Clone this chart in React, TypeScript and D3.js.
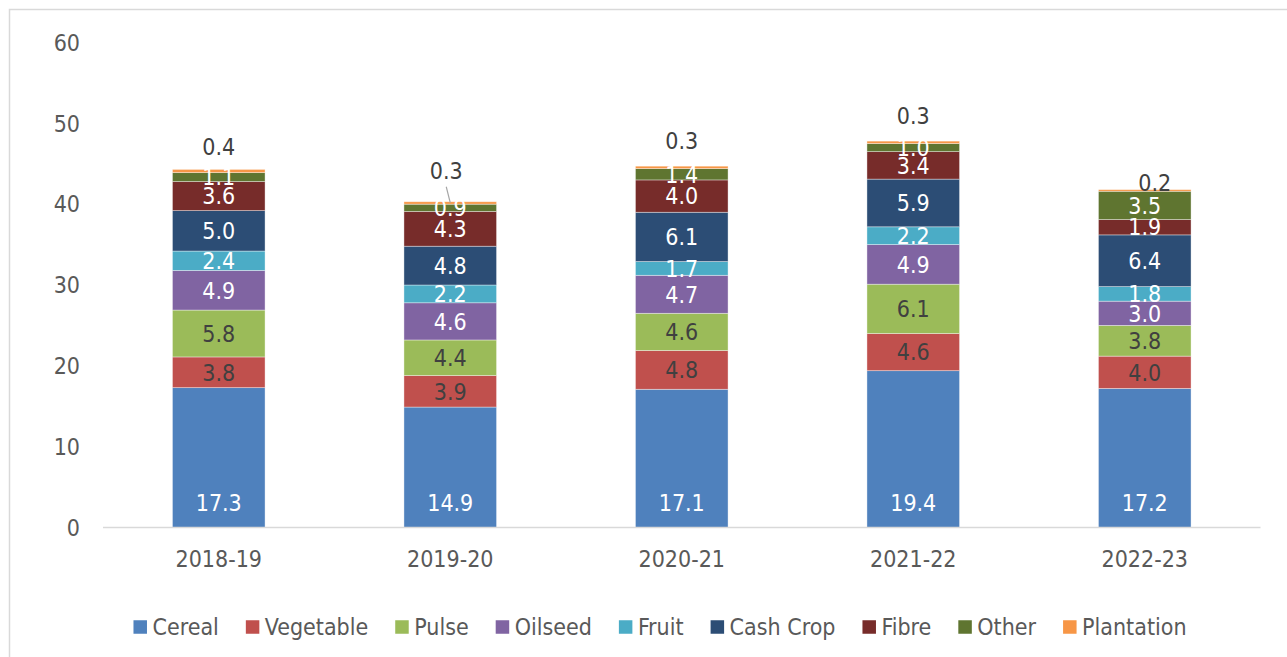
import React, { useEffect, useRef } from "react";
import * as d3 from "d3";

const categories = ["2018-19", "2019-20", "2020-21", "2021-22", "2022-23"];
const seriesNames = ["Cereal", "Vegetable", "Pulse", "Oilseed", "Fruit", "Cash Crop", "Fibre", "Other", "Plantation"];
const cereal = [17.3, 14.9, 17.1, 19.4, 17.2];
const vegetable = [3.8, 3.9, 4.8, 4.6, 4.0];
const pulse = [5.8, 4.4, 4.6, 6.1, 3.8];
const oilseed = [4.9, 4.6, 4.7, 4.9, 3.0];
const fruit = [2.4, 2.2, 1.7, 2.2, 1.8];
const cashCrop = [5.0, 4.8, 6.1, 5.9, 6.4];
const fibre = [3.6, 4.3, 4.0, 3.4, 1.9];
const other = [1.1, 0.9, 1.4, 1.0, 3.5];
const plantation = [0.4, 0.3, 0.3, 0.3, 0.2];
const yTicks = [0, 10, 20, 30, 40, 50, 60];

const colors = ["#4f81bd", "#c0504d", "#9bbb59", "#8064a2", "#4bacc6", "#2c4d75", "#772c2a", "#5f7530", "#f79646"];
const labelColors = ["#ffffff", "#404040", "#404040", "#ffffff", "#ffffff", "#ffffff", "#ffffff", "#ffffff", "#404040"];
// offsets (px) of the plantation labels relative to bar centre / bar top
const topLabelDx = [0, -4, 0, 0, 10];
const topLabelDy = [-23, -31, -25, -25, -7];

const FONT = "'DejaVu Sans Condensed', 'DejaVu Sans', sans-serif";
const FS = 23;

export default function App() {
  const ref = useRef<SVGSVGElement | null>(null);

  useEffect(() => {
    const svg = d3.select(ref.current);
    svg.selectAll("*").remove();

    const W = 1287, H = 657;
    const x0 = 103, x1 = 1260.5, yZero = 527.5, yTop = 42.5;

    svg.append("rect").attr("x", 9.5).attr("y", 9.5).attr("width", W + 20).attr("height", H + 20)
      .attr("fill", "#fff").attr("stroke", "#d9d9d9").attr("stroke-width", 1.5);

    const series = [cereal, vegetable, pulse, oilseed, fruit, cashCrop, fibre, other, plantation];
    const rows = categories.map((c, i) => {
      const r: any = { cat: c };
      seriesNames.forEach((s, j) => (r[s] = series[j][i]));
      return r;
    });
    const stacked = d3.stack<any>().keys(seriesNames)(rows);

    const x = d3.scaleBand().domain(categories).range([x0, x1]).paddingInner(0.6).paddingOuter(0.3);
    const y = d3.scaleLinear().domain([0, 60]).range([yZero, yTop]);

    // y tick labels
    svg.append("g").selectAll("text").data(yTicks).join("text")
      .attr("x", 80).attr("y", (d) => y(d)).attr("dy", "0.36em")
      .attr("text-anchor", "end").attr("font-family", FONT).attr("font-size", FS)
      .attr("fill", "#595959").text((d) => String(d));

    // bars
    const g = svg.append("g");
    stacked.forEach((layer, j) => {
      g.append("g").selectAll("rect").data(layer).join("rect")
        .attr("x", (d: any) => x(d.data.cat)!)
        .attr("width", x.bandwidth())
        .attr("y", (d: any) => y(d[1]))
        .attr("height", (d: any) => y(d[0]) - y(d[1]))
        .attr("fill", colors[j])
        .attr("stroke", "#ffffff").attr("stroke-opacity", 0.5).attr("stroke-width", 0.75);
    });

    // axis line
    svg.append("line").attr("x1", x0).attr("x2", x1).attr("y1", yZero).attr("y2", yZero)
      .attr("stroke", "#d9d9d9").attr("stroke-width", 1.5);

    // x labels
    svg.append("g").selectAll("text").data(categories).join("text")
      .attr("x", (d) => x(d)! + x.bandwidth() / 2).attr("y", 559).attr("dy", "0.36em")
      .attr("text-anchor", "middle").attr("font-family", FONT).attr("font-size", FS)
      .attr("fill", "#595959").text((d) => d);

    // segment labels (cereal sits at the inside base)
    stacked.forEach((layer, j) => {
      if (j === seriesNames.length - 1) return;
      g.append("g").selectAll("text").data(layer).join("text")
        .attr("x", (d: any) => x(d.data.cat)! + x.bandwidth() / 2)
        .attr("y", (d: any) => (j === 0 ? y(d[0]) - 25 : (y(d[0]) + y(d[1])) / 2)).attr("dy", "0.36em")
        .attr("text-anchor", "middle").attr("font-family", FONT).attr("font-size", FS)
        .attr("fill", labelColors[j]).text((d: any) => d3.format(".1f")(d[1] - d[0]));
    });

    // plantation labels above bars
    const top = stacked[stacked.length - 1];
    top.forEach((d: any, i: number) => {
      const cx = x(d.data.cat)! + x.bandwidth() / 2 + topLabelDx[i];
      const cy = y(d[1]) + topLabelDy[i];
      if (i === 1) {
        svg.append("line").attr("x1", cx).attr("y1", cy + 16).attr("x2", cx + 4).attr("y2", y(d[1]) + 1)
          .attr("stroke", "#a6a6a6").attr("stroke-width", 1.2);
      }
      svg.append("text").attr("x", cx).attr("y", cy).attr("dy", "0.36em")
        .attr("text-anchor", "middle").attr("font-family", FONT).attr("font-size", FS)
        .attr("fill", "#404040").text(d3.format(".1f")(plantation[i]));
    });

    // legend
    const lg = svg.append("g");
    const sq = 13.5, gapT = 5.5, gapI = 27;
    let cursor = 0;
    seriesNames.forEach((s, j) => {
      const it = lg.append("g");
      it.append("rect").attr("x", 0).attr("y", -sq / 2).attr("width", sq).attr("height", sq).attr("fill", colors[j]);
      const t = it.append("text").attr("x", sq + gapT).attr("y", 0).attr("dy", "0.36em")
        .attr("font-family", FONT).attr("font-size", FS).attr("fill", "#595959").text(s);
      const w = (t.node() as SVGTextElement).getComputedTextLength();
      it.attr("transform", `translate(${cursor},0)`);
      cursor += sq + gapT + w + gapI;
    });
    const total = cursor - gapI;
    lg.attr("transform", `translate(${660 - total / 2},627)`);
  }, []);

  return (
    <svg ref={ref} width={1287} height={657}
      style={{ position: "absolute", left: 0, top: 0, background: "#fff" }} />
  );
}
